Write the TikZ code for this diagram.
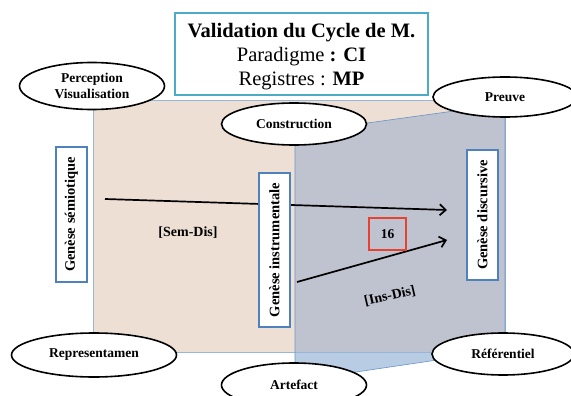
\documentclass[tikz,border=0pt]{standalone}
\usepackage{fontspec}
\setmainfont{Liberation Serif}
\usetikzlibrary{arrows.meta,positioning,shapes.geometric}
\definecolor{beige}{HTML}{EEDFD4}
\definecolor{sideblue}{HTML}{B8CCE4}
\definecolor{overlap}{HTML}{BFC3CF}
\definecolor{frameblue}{HTML}{4F81BD}
\definecolor{titleblue}{HTML}{4BACC6}
\definecolor{redbox}{HTML}{E8412F}

\begin{document}
\begin{tikzpicture}[x=1pt,y=-1pt,font=\bfseries\fontsize{13.5}{16}\selectfont,
  pole/.style={ellipse, draw=black, line width=1.6pt, fill=white, inner sep=0pt, align=center},
  genese/.style={draw=frameblue, line width=1.3pt, fill=white, rotate=90, inner sep=0pt, minimum height=31pt,
    font=\bfseries\fontsize{14.5}{16}\selectfont},
  flow/.style={-{Straight Barb[length=6pt,width=11pt]}, line width=1.7pt}]
  \useasboundingbox (0,0) rectangle (571,396);
  % faces
  \fill[beige] (93,100) rectangle (505,352);
  \fill[sideblue] (295,133) -- (505,104) -- (505,350) -- (295,381) -- cycle;
  \begin{scope}
    \clip (295,133) -- (505,104) -- (505,350) -- (295,381) -- cycle;
    \fill[overlap] (93,100) rectangle (505,352);
  \end{scope}
  \draw[sideblue!70!frameblue, line width=0.8pt] (93,100) rectangle (505,352);
  \draw[frameblue!85, line width=0.6pt] (295,133) -- (505,104) -- (505,350) -- (295,381) -- cycle;

  % title
  \node[draw=titleblue, line width=1.6pt, fill=white, minimum width=253pt, minimum height=82pt] (titre) at (301.5,54) {};
  \node[align=center, yshift=-3pt, font=\fontsize{20.5}{24}\selectfont] (titretxt) at (titre)
    {\textbf{Validation du Cycle de M.}\\Paradigme \textbf{: CI}\\Registres : \textbf{MP}};

  % poles
  \node[pole, minimum width=145pt, minimum height=47pt] (percep) at (92,86) {Perception\\Visualisation};
  \node[pole, minimum width=165pt, minimum height=44pt] (repres) at (94,355) {Representamen};
  \node[pole, minimum width=145pt, minimum height=42pt] (constr) at (294,124) {Construction};
  \node[pole, minimum width=145pt, minimum height=44pt] (artef) at (294,385) {Artefact};
  \node[pole, minimum width=144pt, minimum height=40pt] (preuve) at (505,97) {Preuve};
  \node[pole, minimum width=142pt, minimum height=42pt] (refer) at (503,354) {Référentiel};

  % arrows
  \coordinate (semdep) at (105,199);
  \coordinate (semarr) at (447,210);
  \coordinate (insdep) at (297,282);
  \coordinate (insarr) at (447,240);
  \draw[flow] (semdep) -- (semarr);
  \draw[flow] (insdep) -- (insarr);

  % geneses
  \node[genese, minimum width=135pt] (semio) at (71.5,214.5) {Genèse sémiotique};
  \node[genese, minimum width=154pt] (instru) at (274.5,250) {Genèse instrumentale};
  \node[genese, minimum width=130pt] (discur) at (482.5,215) {Genèse discursive};

  \node[draw=redbox, line width=1.3pt, minimum width=37pt, minimum height=32pt, inner sep=0pt] (num) at (387.5,234) {16};
  \node[font=\bfseries\fontsize{14}{16}\selectfont] (semdis) at (188,233) {[Sem-Dis]};
  \node[font=\bfseries\fontsize{14}{16}\selectfont, rotate=13] (insdis) at (390,296) {[Ins-Dis]};
\end{tikzpicture}
\end{document}
